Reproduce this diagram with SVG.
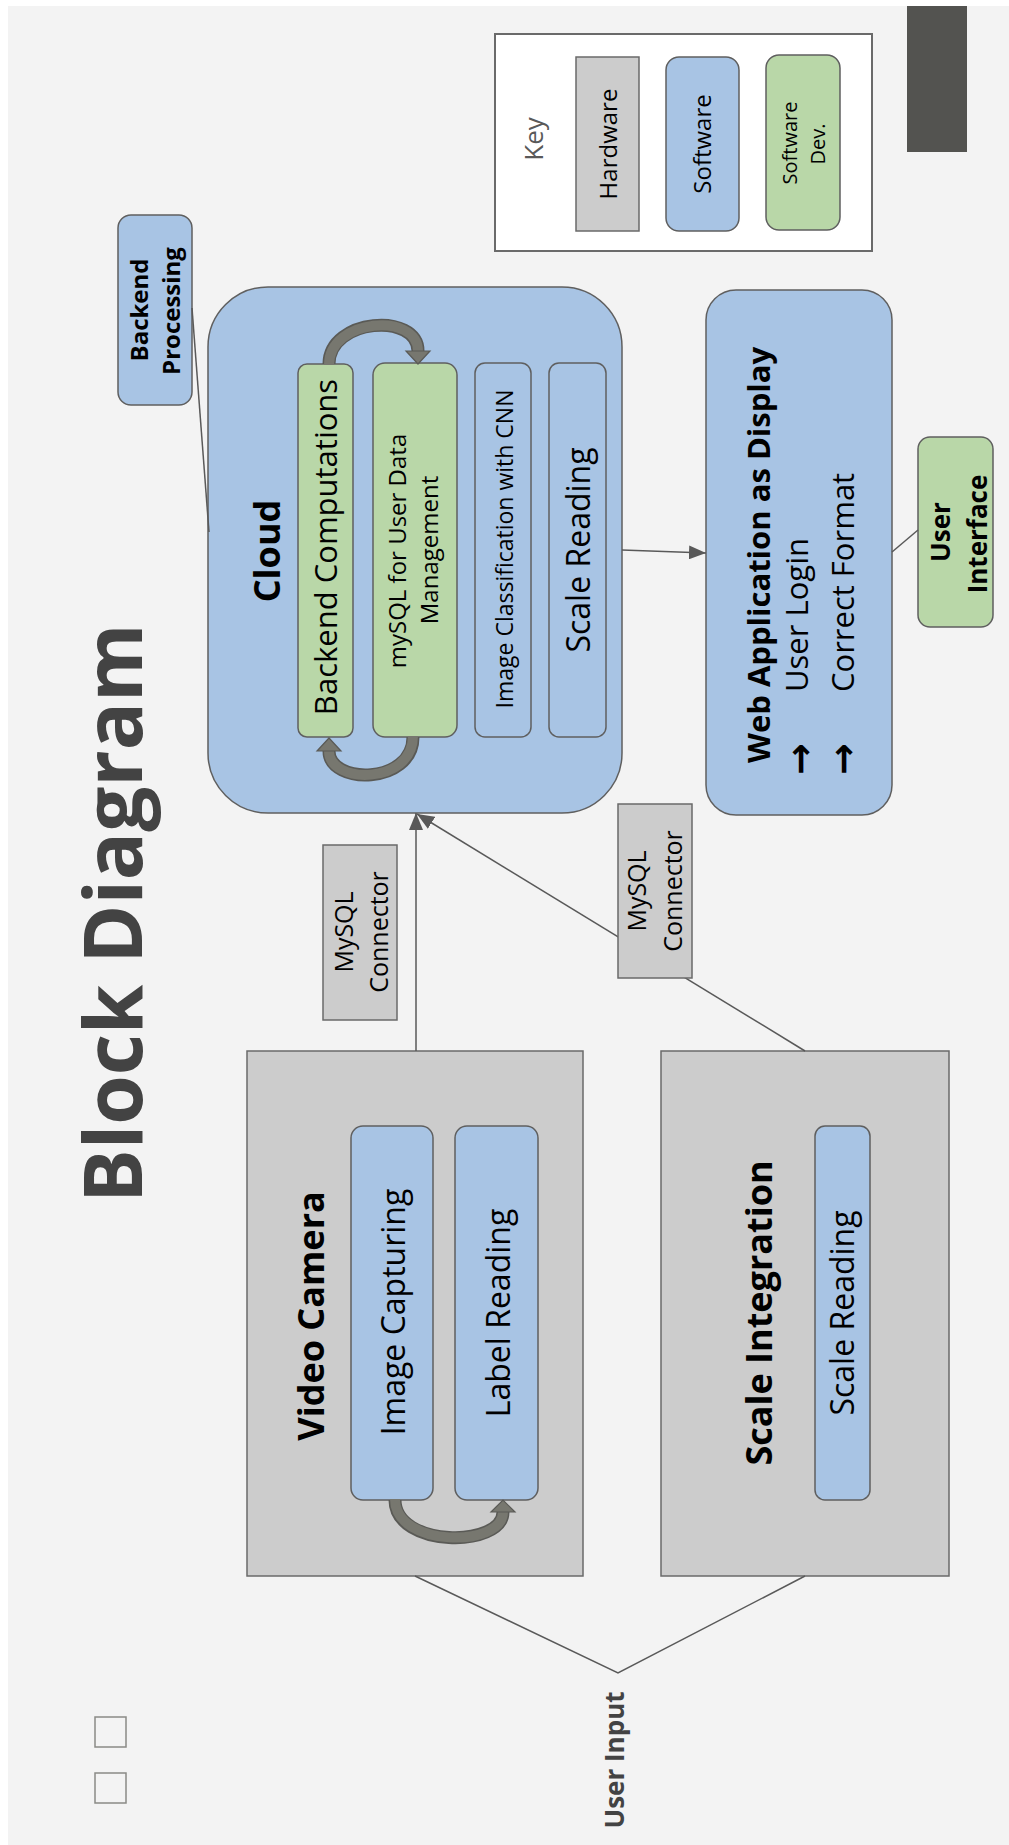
<svg xmlns="http://www.w3.org/2000/svg" width="1009" height="1845" viewBox="0 0 1009 1845">
<defs>
<style>
.t{font-family:"Open Sans","Liberation Sans",sans-serif;fill:#000;text-anchor:middle}
.s{text-anchor:start}
.b{font-weight:700}
.blue{fill:#a8c4e4;stroke:#5f5f5f;stroke-width:1.5}
.green{fill:#b9d7a8;stroke:#5f5f5f;stroke-width:1.5}
.hw{fill:#cccccc;stroke:#6a6a6a;stroke-width:1.5}
.ln{stroke:#595959;stroke-width:1.5;fill:none}
.band{fill:none;stroke:#5a5a56;stroke-width:13}
.bandin{fill:none;stroke:#77776f;stroke-width:10}
.head{fill:#77776f;stroke:#5a5a56;stroke-width:1.2}
.arw{font-family:"DejaVu Sans",sans-serif;font-weight:700;font-size:38px;text-anchor:start;fill:#000}
</style>
<marker id="ah" markerUnits="userSpaceOnUse" markerWidth="17" markerHeight="14" refX="17" refY="7" orient="auto">
<path d="M0,0 L17,7 L0,14 z" fill="#595959"/>
</marker>
</defs>
<rect x="0" y="0" width="1009" height="1845" fill="#ffffff"/>
<rect x="8" y="6" width="1001" height="1839" fill="#f3f3f3"/>
<rect x="907" y="6" width="60" height="146" fill="#535350"/>

<text class="t b" transform="translate(142,1203) rotate(-90)" style="text-anchor:start;font-size:80px;fill:#434343">Block Diagram</text>

<g id="key">
<rect x="495" y="34" width="377" height="217" fill="#ffffff" stroke="#6a6a6a" stroke-width="2"/>
<text class="t" transform="translate(543,139) rotate(-90)" style="font-size:26px;fill:#595959">Key</text>
<rect class="hw" x="576" y="57" width="63" height="174"/>
<text class="t" transform="translate(617,144) rotate(-90)" style="font-size:24px">Hardware</text>
<rect class="blue" x="666" y="57" width="73" height="174" rx="13"/>
<text class="t" transform="translate(711,144) rotate(-90)" style="font-size:24px">Software</text>
<rect class="green" x="766" y="55" width="74" height="175" rx="13"/>
<text class="t" transform="translate(797,143) rotate(-90)" style="font-size:20px">Software</text>
<text class="t" transform="translate(825,144) rotate(-90)" style="font-size:20px">Dev.</text>
</g>

<g id="backend-processing">
<rect class="blue" x="118" y="215" width="74" height="190" rx="13"/>
<text class="t b" transform="translate(148,310) rotate(-90)" style="font-size:24px">Backend</text>
<text class="t b" transform="translate(180,311) rotate(-90)" style="font-size:24px">Processing</text>
</g>

<g id="cloud">
<rect class="blue" x="208" y="287" width="414" height="526" rx="60"/>
<text class="t b" transform="translate(280,551) rotate(-90)" style="font-size:36px">Cloud</text>
<rect class="green" x="298" y="364" width="55" height="373" rx="9"/>
<text class="t" transform="translate(337,547) rotate(-90)" style="font-size:31px">Backend Computations</text>
<rect class="green" x="373" y="363" width="84" height="374" rx="12"/>
<text class="t" transform="translate(406,551) rotate(-90)" style="font-size:24px">mySQL for User Data</text>
<text class="t" transform="translate(438,550) rotate(-90)" style="font-size:24px">Management</text>
<rect class="blue" x="475" y="363" width="56" height="374" rx="10"/>
<text class="t" transform="translate(513,549) rotate(-90)" style="font-size:23px">Image Classification with CNN</text>
<rect class="blue" x="549" y="363" width="57" height="374" rx="10"/>
<text class="t" transform="translate(590,550) rotate(-90)" style="font-size:32px">Scale Reading</text>
</g>

<g id="web-app">
<rect class="blue" x="706" y="290" width="186" height="525" rx="30"/>
<text class="t b s" transform="translate(770,763) rotate(-90)" style="font-size:31px">Web Application as Display</text>
<text class="arw" transform="translate(813,775) rotate(-90)">→</text>
<text class="t s" transform="translate(808,692) rotate(-90)" style="font-size:31px">User Login</text>
<text class="arw" transform="translate(856,775) rotate(-90)">→</text>
<text class="t s" transform="translate(854,692) rotate(-90)" style="font-size:31px">Correct Format</text>
</g>

<g id="user-interface">
<rect class="green" x="918" y="437" width="75" height="190" rx="12"/>
<text class="t b" transform="translate(950,532) rotate(-90)" style="font-size:26px">User</text>
<text class="t b" transform="translate(987,534) rotate(-90)" style="font-size:26px">Interface</text>
</g>

<g id="video-camera">
<rect class="hw" x="247" y="1051" width="336" height="525"/>
<text class="t b" transform="translate(324,1316) rotate(-90)" style="font-size:36px">Video Camera</text>
<rect class="blue" x="351" y="1126" width="82" height="374" rx="12"/>
<text class="t" transform="translate(405,1312) rotate(-90)" style="font-size:32px">Image Capturing</text>
<rect class="blue" x="455" y="1126" width="83" height="374" rx="12"/>
<text class="t" transform="translate(510,1313) rotate(-90)" style="font-size:32px">Label Reading</text>
</g>

<g id="scale-integration">
<rect class="hw" x="661" y="1051" width="288" height="525"/>
<text class="t b" transform="translate(772,1313) rotate(-90)" style="font-size:36px">Scale Integration</text>
<rect class="blue" x="815" y="1126" width="55" height="374" rx="10"/>
<text class="t" transform="translate(854,1313) rotate(-90)" style="font-size:32px">Scale Reading</text>
</g>

<g id="user-input">
<text class="t b" transform="translate(624,1760) rotate(-90)" style="font-size:26px;fill:#434343">User Input</text>
</g>

<g id="marks">
<rect x="95" y="1717" width="31" height="30" fill="none" stroke="#8a8a86" stroke-width="1.5"/>
<rect x="95" y="1773" width="31" height="30" fill="none" stroke="#8a8a86" stroke-width="1.5"/>
</g>

<g id="connectors">
<line class="ln" x1="192" y1="308" x2="209" y2="532"/>
<line class="ln" x1="622" y1="550" x2="706" y2="553" marker-end="url(#ah)"/>
<line class="ln" x1="918" y1="530" x2="892" y2="552"/>
<line class="ln" x1="416" y1="1051" x2="416" y2="813" marker-end="url(#ah)"/>
<line class="ln" x1="805" y1="1051" x2="417" y2="814" marker-end="url(#ah)"/>
<polyline class="ln" points="415,1576 618,1673 805,1576"/>
<path class="band" d="M329,364 C329,318 418,312 418,351"/>
<path class="bandin" d="M329,365 C329,318 418,312 418,351"/>
<polygon class="head" points="406,351 430,351 418,364"/>
<path class="band" d="M413,737 C413,785 329,785 329,751"/>
<path class="bandin" d="M413,736 C413,785 329,785 329,751"/>
<polygon class="head" points="317,751 341,751 329,738"/>
<path class="band" d="M395,1500 C395,1548 503,1548 503,1512"/>
<path class="bandin" d="M395,1499 C395,1548 503,1548 503,1512"/>
<polygon class="head" points="491,1512 515,1512 503,1500"/>
</g>

<g id="mysql-connector-1">
<rect class="hw" x="323" y="845" width="74" height="175"/>
<text class="t" transform="translate(353,932) rotate(-90)" style="font-size:25px">MySQL</text>
<text class="t" transform="translate(388,932) rotate(-90)" style="font-size:25px">Connector</text>
</g>
<g id="mysql-connector-2">
<rect class="hw" x="618" y="804" width="74" height="174"/>
<text class="t" transform="translate(646,891) rotate(-90)" style="font-size:25px">MySQL</text>
<text class="t" transform="translate(682,891) rotate(-90)" style="font-size:25px">Connector</text>
</g>
</svg>
